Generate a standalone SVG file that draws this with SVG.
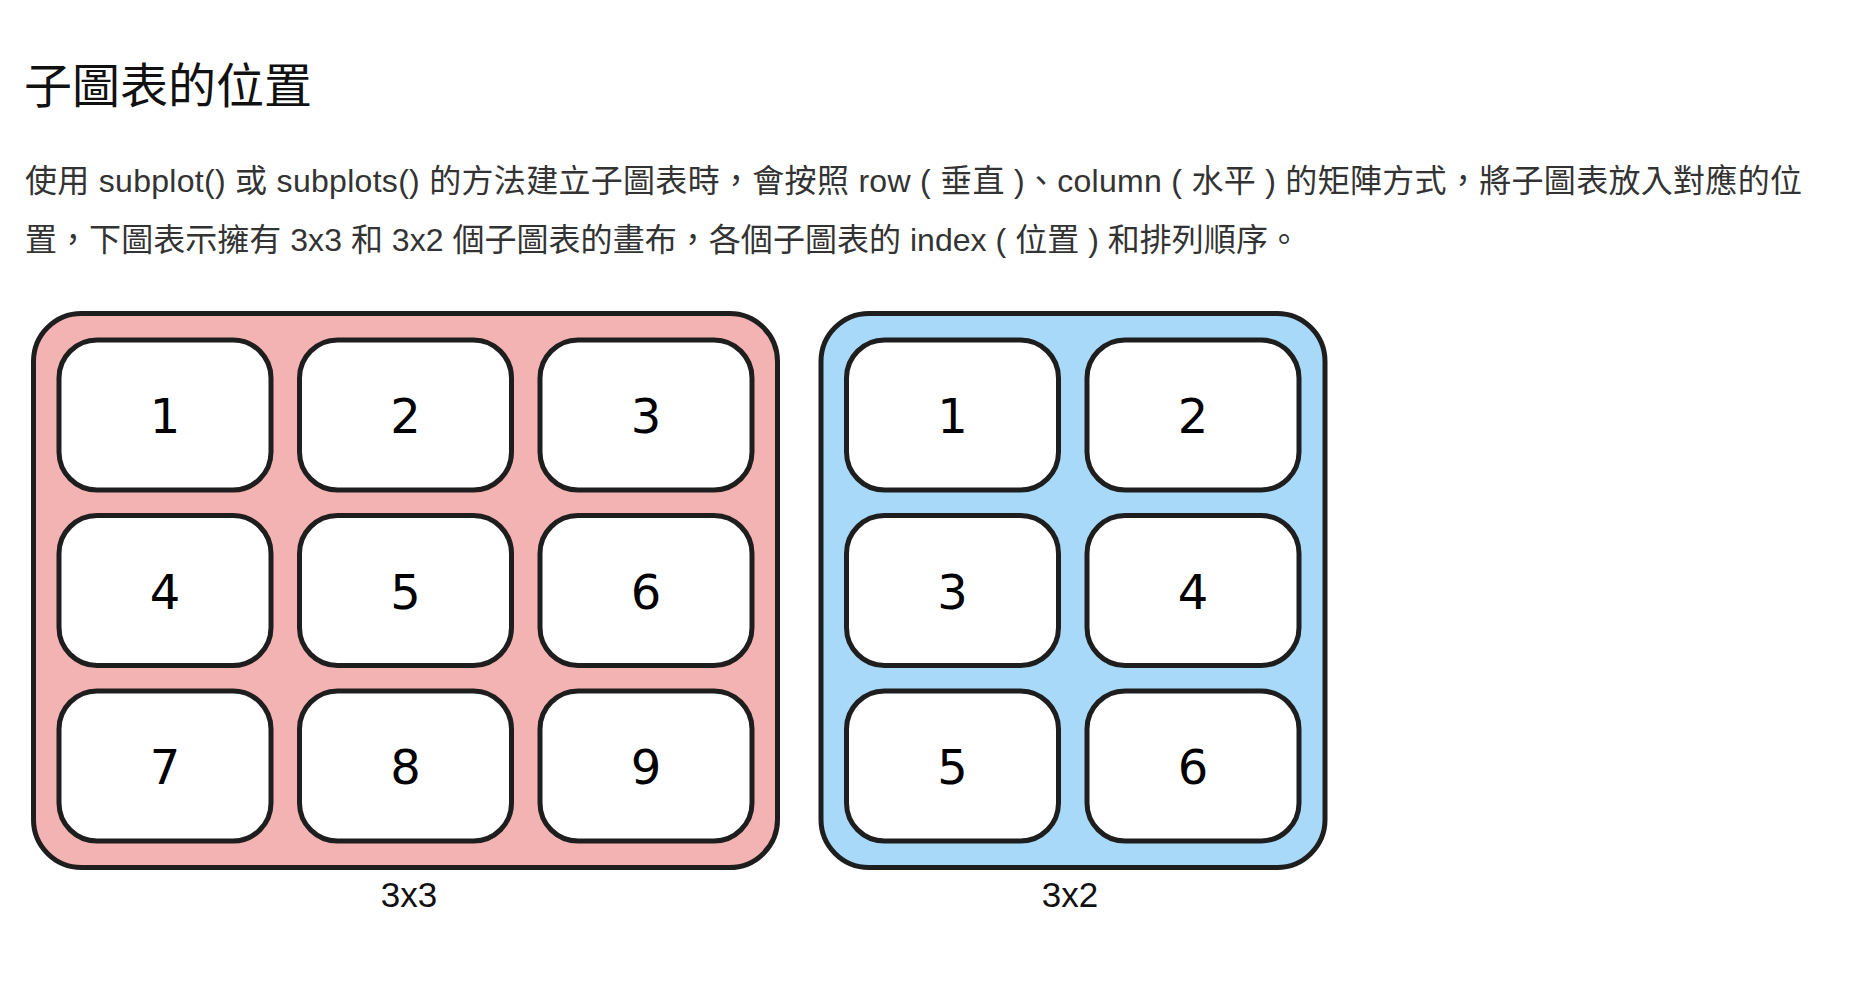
<svg xmlns="http://www.w3.org/2000/svg" width="1862" height="982" viewBox="0 0 1862 982">
<style>
.title{font-family:"Noto Sans CJK TC","Noto Sans CJK SC",sans-serif;font-size:48px;fill:#111}
.para{font-family:"Liberation Sans","Noto Sans CJK TC","Noto Sans CJK SC",sans-serif;font-size:32px;fill:#333}
.outer{stroke:#1e1e1e;stroke-width:5}
.red{fill:#f3b3b2}
.blue{fill:#a9d9f8}
.cell{fill:#fff;stroke:#1e1e1e;stroke-width:5}
.num{font-family:"DejaVu Sans",sans-serif;font-size:48px;fill:#000;text-anchor:middle}
.lbl{font-family:"Liberation Sans",Arial,sans-serif;font-size:35px;fill:#111;text-anchor:middle}
</style>
<rect width="1862" height="982" fill="#fff"/>
<text class="title" x="24" y="103">子圖表的位置</text>
<text class="para" x="25" y="192" textLength="1777" lengthAdjust="spacing">使用 subplot() 或 subplots() 的方法建立子圖表時，會按照 row ( 垂直 )、column ( 水平 ) 的矩陣方式，將子圖表放入對應的位</text>
<text class="para" x="25" y="251" textLength="1275" lengthAdjust="spacing">置，下圖表示擁有 3x3 和 3x2 個子圖表的畫布，各個子圖表的 index ( 位置 ) 和排列順序。</text>
<g id="grid3x3">
<rect class="outer red" x="33.5" y="313.5" width="744" height="554" rx="48"/>
<g id="g33-1"><rect class="cell" x="59" y="340" width="212" height="150" rx="38"/><text class="num" x="165" y="433">1</text></g>
<g id="g33-2"><rect class="cell" x="299.5" y="340" width="212" height="150" rx="38"/><text class="num" x="405.5" y="433">2</text></g>
<g id="g33-3"><rect class="cell" x="540" y="340" width="212" height="150" rx="38"/><text class="num" x="646" y="433">3</text></g>
<g id="g33-4"><rect class="cell" x="59" y="515.5" width="212" height="150" rx="38"/><text class="num" x="165" y="608.5">4</text></g>
<g id="g33-5"><rect class="cell" x="299.5" y="515.5" width="212" height="150" rx="38"/><text class="num" x="405.5" y="608.5">5</text></g>
<g id="g33-6"><rect class="cell" x="540" y="515.5" width="212" height="150" rx="38"/><text class="num" x="646" y="608.5">6</text></g>
<g id="g33-7"><rect class="cell" x="59" y="691" width="212" height="150" rx="38"/><text class="num" x="165" y="784">7</text></g>
<g id="g33-8"><rect class="cell" x="299.5" y="691" width="212" height="150" rx="38"/><text class="num" x="405.5" y="784">8</text></g>
<g id="g33-9"><rect class="cell" x="540" y="691" width="212" height="150" rx="38"/><text class="num" x="646" y="784">9</text></g>
<text class="lbl" x="409" y="907">3x3</text>
</g>
<g id="grid3x2">
<rect class="outer blue" x="821" y="313.5" width="504" height="554" rx="48"/>
<g id="g32-1"><rect class="cell" x="846.5" y="340" width="212" height="150" rx="38"/><text class="num" x="952.5" y="433">1</text></g>
<g id="g32-2"><rect class="cell" x="1087" y="340" width="212" height="150" rx="38"/><text class="num" x="1193" y="433">2</text></g>
<g id="g32-3"><rect class="cell" x="846.5" y="515.5" width="212" height="150" rx="38"/><text class="num" x="952.5" y="608.5">3</text></g>
<g id="g32-4"><rect class="cell" x="1087" y="515.5" width="212" height="150" rx="38"/><text class="num" x="1193" y="608.5">4</text></g>
<g id="g32-5"><rect class="cell" x="846.5" y="691" width="212" height="150" rx="38"/><text class="num" x="952.5" y="784">5</text></g>
<g id="g32-6"><rect class="cell" x="1087" y="691" width="212" height="150" rx="38"/><text class="num" x="1193" y="784">6</text></g>
<text class="lbl" x="1070" y="907">3x2</text>
</g>
<g id="connectors"/>
</svg>
